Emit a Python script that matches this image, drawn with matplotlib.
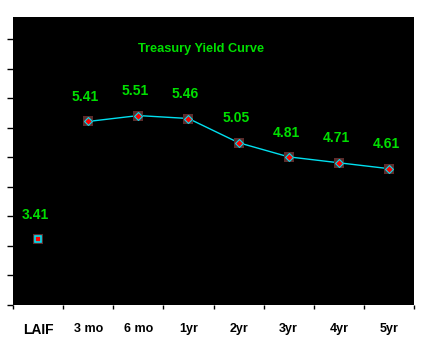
import matplotlib.pyplot as plt
import numpy as np

categorias = ['LAIF', '3 mo', '6 mo', '1yr', '2yr', '3yr', '4yr', '5yr']
laif = 3.41
rendimientos = [5.41, 5.51, 5.46, 5.05, 4.81, 4.71, 4.61]
etiquetas = ['3.41', '5.41', '5.51', '5.46', '5.05', '4.81', '4.71', '4.61']

verde = '#00e000'
cian = '#00e0f0'
marron = '#5c2b2b'

fig = plt.figure(figsize=(4.25, 3.54), dpi=100)
ax = fig.add_axes([13 / 425, 49 / 354, 401 / 425, 288 / 354])
ax.set_facecolor('black')
for s in ax.spines.values():
    s.set_visible(False)

x = np.arange(len(categorias))
xs = x[1:]

# linea de la curva
ax.plot(xs, rendimientos, color=cian, linewidth=1, zorder=2)
# marcadores: cuadrado marron detras, rombo rojo con borde cian
ax.plot(xs, rendimientos, linestyle='none', marker='s', markersize=7.2,
        color=marron, markeredgewidth=0, zorder=3)
ax.plot(xs, rendimientos, linestyle='none', marker='D', markersize=4.2,
        markerfacecolor='red', markeredgecolor=cian, markeredgewidth=0.8, zorder=4)

# LAIF
ax.plot([0], [laif], linestyle='none', marker='s', markersize=7.2,
        color=marron, markeredgewidth=0, zorder=3)
ax.plot([0], [laif], linestyle='none', marker='s', markersize=4.6,
        markerfacecolor='red', markeredgecolor=cian, markeredgewidth=1.2, zorder=4)

valores = [laif] + rendimientos
for xi, v, t in zip(x, valores, etiquetas):
    ax.annotate(t, (xi, v), xytext=(-2, 17.5), textcoords='offset points',
                ha='center', va='center', color=verde, fontsize=10,
                fontweight='bold', family='Liberation Sans')

ax.text(0.47, 0.89, 'Treasury Yield Curve', transform=ax.transAxes,
        ha='center', va='center', color=verde, fontsize=9.2,
        fontweight='bold', family='Liberation Sans')

ax.set_xlim(-0.5, 7.5)
ax.set_ylim(2.30, 7.18)
ax.set_yticks(np.arange(2.30, 7.0, 0.5))
ax.set_yticklabels([])
ax.tick_params(axis='y', direction='out', length=4, width=1, color='black')

ax.set_xticks(np.arange(-0.5, 8, 1))
ax.set_xticklabels([])
ax.tick_params(axis='x', which='major', direction='out', length=3, width=1, color='black')
ax.set_xticks(x, minor=True)
ax.set_xticklabels(categorias, minor=True, fontsize=9, fontweight='bold',
                   family='Liberation Sans')
ax.set_xticklabels(categorias, minor=True, fontsize=9, fontweight='bold',
                   family='Liberation Sans')
ax.get_xticklabels(minor=True)[0].set_fontsize(10)
ax.tick_params(axis='x', which='minor', length=0, pad=13)

fig.savefig('out.png', dpi=100, facecolor='white')
